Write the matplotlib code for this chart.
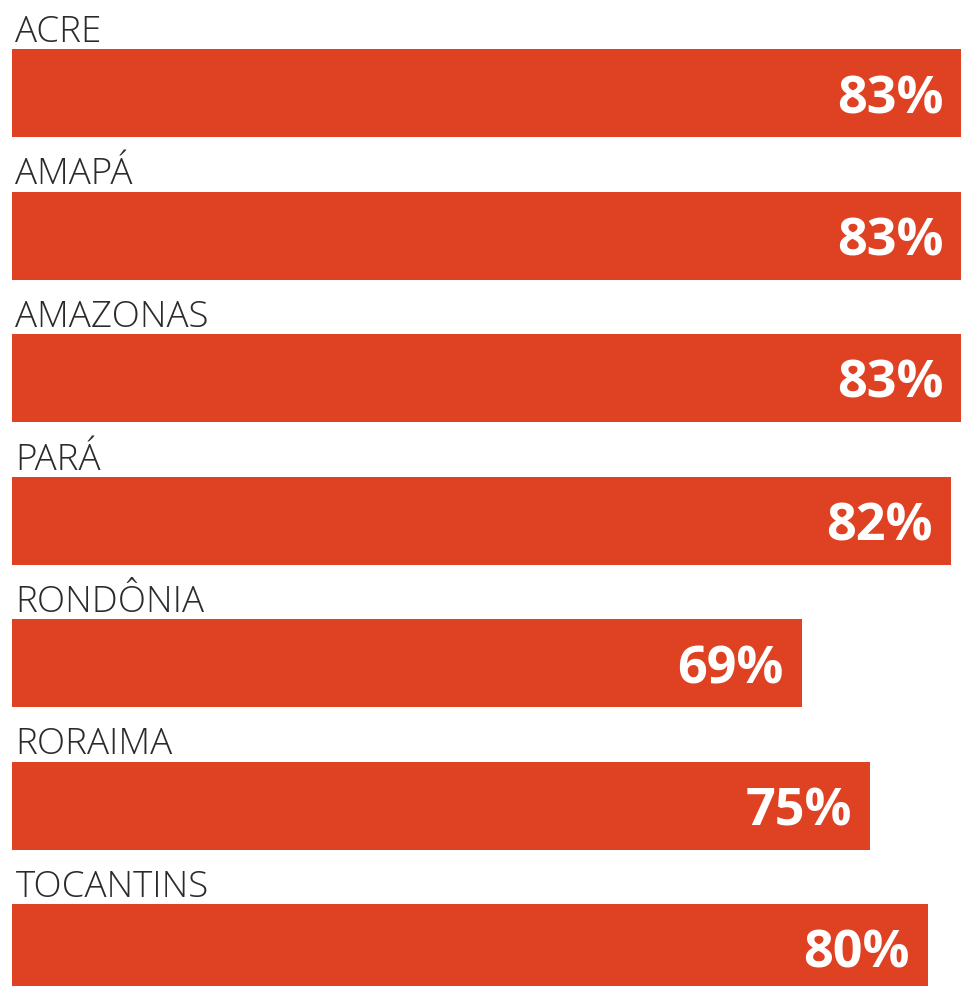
import os
import matplotlib.pyplot as plt
from matplotlib import font_manager

states = ["ACRE", "AMAPÁ", "AMAZONAS", "PARÁ", "RONDÔNIA", "RORAIMA", "TOCANTINS"]
percent = [83, 83, 83, 82, 69, 75, 80]

BAR_COLOR = "#DF4223"
TEXT_COLOR = "#2B2B2B"


def bold_font(size):
    # pick the plain (non condensed) Open Sans Bold file if it is there
    for path in font_manager.findSystemFonts():
        name = os.path.basename(path).lower()
        if name in ("opensans-bold.ttf", "opensans-bold.otf"):
            return font_manager.FontProperties(fname=path, size=size)
    return font_manager.FontProperties(family="Open Sans", weight="bold",
                                       stretch="normal", size=size)


def main():
    fig = plt.figure(figsize=(9.62, 9.86), dpi=100)
    # axes spans the full picture; 83% reaches the right edge
    ax = fig.add_axes([12 / 962, 0, 950 / 962, 1])

    step = 142.5  # px between bars
    bar_h = 88 / step
    ys = list(range(len(states)))

    ax.barh(ys, percent, height=bar_h, color=BAR_COLOR, align="center")

    value_font = bold_font(37.5)
    for y, name, v in zip(ys, states, percent):
        # category name sits just above its bar
        ax.text(0.3, y - bar_h / 2 - 7 / step, name, ha="left", va="baseline",
                fontsize=26.5, family="Open Sans", fontweight="light", color=TEXT_COLOR)
        ax.annotate(f"{v}%", xy=(v, y), xytext=(-13, 0), textcoords="offset points",
                    ha="right", va="center_baseline", fontproperties=value_font,
                    color="white")

    ax.set_xlim(0, 83)
    ax.set_ylim((986 - 93) / step, -93 / step)
    ax.axis("off")

    fig.savefig("out.png", dpi=100)


if __name__ == "__main__":
    main()
